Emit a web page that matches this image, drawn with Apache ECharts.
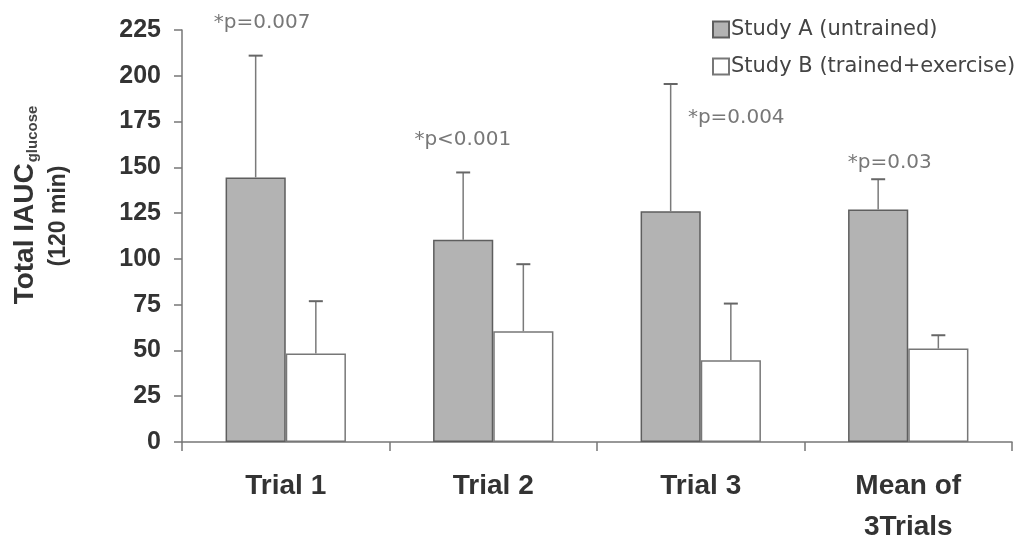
<!DOCTYPE html>
<html>
<head>
<meta charset="utf-8">
<script src="https://cdn.jsdelivr.net/npm/echarts@6/dist/echarts.min.js"></script>
<style>
html,body{margin:0;padding:0;background:#fff;}
#chart{width:1027px;height:540px;}
</style>
</head>
<body>
<div id="chart"></div>
<script>
var categories = ['Trial 1', 'Trial 2', 'Trial 3', 'Mean of\n3Trials'];
var studyA = [144.5, 110.5, 126, 127];
var studyASD = [66.5, 36.7, 69.5, 16.5];
var studyB = [48.3, 60.5, 44.6, 51];
var studyBSD = [28.6, 36.6, 31, 7.3];
var pLabels = ['*p=0.007', '*p<0.001', '*p=0.004', '*p=0.03'];
var pLabelX = [0.386, 1.353, 2.671, 3.411];
var pLabelY = [229, 165, 177, 152.5];
var yTicks = [0, 225, 25];

var chart = echarts.init(document.getElementById('chart'));

function errData(vals, sds) {
  return vals.map(function (v, i) { return [i, v, v + sds[i]]; });
}
function makeErr(dir) {
  return function (params, api) {
    var i = api.value(0);
    var base = api.coord([i, api.value(1)]);
    var top = api.coord([i, api.value(2)]);
    var bw = api.size([1, 0])[0];
    var x = base[0] + dir * bw * 0.145;
    return {
      type: 'group',
      children: [
        { type: 'line', shape: { x1: x, y1: base[1], x2: x, y2: top[1] }, style: { stroke: '#7a7a7a', lineWidth: 1.5 } },
        { type: 'line', shape: { x1: x - 7, y1: top[1], x2: x + 7, y2: top[1] }, style: { stroke: '#666', lineWidth: 2 } }
      ]
    };
  };
}

var option = {
  backgroundColor: '#fff',
  animation: false,
  grid: { left: 182, right: 15, top: 30, bottom: 98, containLabel: false, outerBoundsMode: 'none' },
  legend: {
    orient: 'vertical',
    left: 707,
    top: 14,
    itemWidth: 16,
    itemHeight: 16,
    itemGap: 16,
    icon: 'rect',
    textStyle: { fontFamily: 'DejaVu Sans', fontSize: 21, color: '#444', padding: [0, 0, 0, -3] },
    data: ['Study A (untrained)', 'Study B (trained+exercise)']
  },
  graphic: [{
    type: 'text',
    x: 25,
    y: 205,
    rotation: Math.PI / 2,
    style: {
      text: '{t|Total IAUC}{s|glucose}',
      align: 'center',
      verticalAlign: 'middle',
      fill: '#333',
      rich: {
        t: { fontFamily: 'Liberation Sans', fontWeight: 'bold', fontSize: 28, lineHeight: 30, fill: '#333' },
        s: { fontFamily: 'Liberation Sans', fontWeight: 'bold', fontSize: 15, lineHeight: 30, verticalAlign: 'bottom', fill: '#444', padding: [0, 0, 0, 1] }
      }
    }
  }, {
    type: 'text',
    x: 59,
    y: 216,
    rotation: Math.PI / 2,
    style: {
      text: '(120 min)',
      align: 'center',
      verticalAlign: 'middle',
      fill: '#333',
      font: 'bold 23px "Liberation Sans"'
    }
  }],
  xAxis: [{
    type: 'category',
    data: categories,
    axisLine: { lineStyle: { color: '#777', width: 1.5 } },
    axisTick: { show: true, length: 9, lineStyle: { color: '#777', width: 1.5 } },
    axisLabel: { fontFamily: 'Liberation Sans', fontWeight: 'bold', fontSize: 28, color: '#333', lineHeight: 41, margin: 24 },
    splitLine: { show: false }
  }, {
    type: 'value',
    min: 0,
    max: 4,
    show: false
  }],
  yAxis: {
    type: 'value',
    min: yTicks[0],
    max: yTicks[1],
    interval: yTicks[2],
    axisLine: { show: true, lineStyle: { color: '#777', width: 1.5 } },
    axisTick: { show: true, length: 8, lineStyle: { color: '#777', width: 1.5 } },
    axisLabel: { fontFamily: 'Liberation Sans', fontWeight: 'bold', fontSize: 25, color: '#333', margin: 21 },
    splitLine: { show: false }
  },
  series: [{
    name: 'Study A (untrained)',
    type: 'bar',
    data: studyA,
    barWidth: '29%',
    barGap: '0%',
    itemStyle: { color: '#b3b3b3', borderColor: '#5e5e5e', borderWidth: 1.5 }
  }, {
    name: 'Study B (trained+exercise)',
    type: 'bar',
    data: studyB,
    barWidth: '29%',
    barGap: '0%',
    itemStyle: { color: '#ffffff', borderColor: '#777', borderWidth: 1.5 }
  }, {
    type: 'custom',
    renderItem: makeErr(-1),
    data: errData(studyA, studyASD),
    encode: { x: 0, y: [1, 2] },
    z: 5,
    silent: true
  }, {
    type: 'custom',
    renderItem: makeErr(1),
    data: errData(studyB, studyBSD),
    encode: { x: 0, y: [1, 2] },
    z: 5,
    silent: true
  }, {
    type: 'scatter',
    xAxisIndex: 1,
    symbolSize: 0,
    silent: true,
    clip: false,
    data: pLabels.map(function (t, i) { return { name: t, value: [pLabelX[i], pLabelY[i]] }; }),
    label: {
      show: true,
      position: 'inside',
      formatter: function (p) { return p.name; },
      fontFamily: 'DejaVu Sans',
      fontSize: 20,
      color: '#555'
    }
  }]
};
chart.setOption(option);
</script>
</body>
</html>
